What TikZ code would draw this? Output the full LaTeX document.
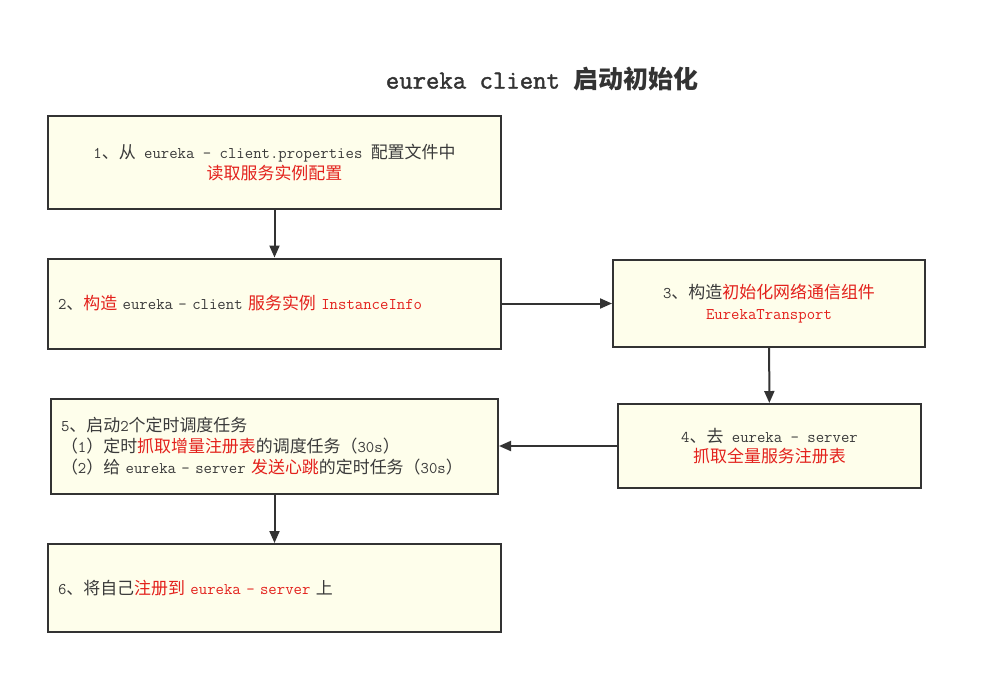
\documentclass[tikz,border=0pt]{standalone}
\usepackage{fontspec}
\newfontfamily\cjk[Scale=1.04]{Noto Sans CJK SC}
\newfontfamily\ttbold[FakeBold=1.6]{Latin Modern Mono}
\usetikzlibrary{arrows.meta}
\definecolor{bd}{HTML}{333333}
\definecolor{txt}{HTML}{3A3A3A}
\definecolor{tred}{HTML}{E3211C}
\definecolor{fillc}{HTML}{FEFEEB}
\newcommand{\cn}[1]{{\cjk #1}}
\newcommand{\rd}[1]{\textcolor{tred}{#1}}
\begin{document}
\begin{tikzpicture}[x=1pt,y=-1pt,
  box/.style={draw=bd, line width=2pt, fill=fillc, text=txt, font=\ttfamily\fontsize{16.3}{20.8}\selectfont},
  cbox/.style={box, align=center, inner sep=0pt},
  lbox/.style={box, align=left, inner xsep=10pt, inner ysep=0pt},
  conn/.style={draw=bd, line width=2pt, -{Triangle[length=12pt,width=10pt]}}]
\useasboundingbox (0,0) rectangle (987,694);
\fill[white] (0,0) rectangle (987,694);
\node[text=bd, font=\ttbold\fontsize{26}{28}\selectfont] (title) at (542,79)
  {eureka client \cn{\bfseries\fontsize{24}{28}\selectfont 启动初始化}};
\node[cbox, minimum width=453pt, minimum height=93pt] (b1) at (274.5,162.5)
  {1\cn{、从} eureka - client.properties \cn{配置文件中}\\ \rd{\cn{读取服务实例配置}}};
\node[lbox, text width=433pt, minimum height=90pt] (b2) at (274.5,303.5)
  {2\cn{、}\rd{\cn{构造}} eureka - client \rd{\cn{服务实例} InstanceInfo}};
\node[cbox, minimum width=312pt, minimum height=87pt] (b3) at (769,303.5)
  {3\cn{、构造}\rd{\cn{初始化网络通信组件}}\\ \rd{EurekaTransport}};
\node[cbox, minimum width=303pt, minimum height=84pt] (b4) at (769.5,446)
  {4\cn{、去} eureka - server\\ \rd{\cn{抓取全量服务注册表}}};
\node[lbox, text width=427pt, minimum height=95pt, inner xsep=10pt] (b5) at (274.5,446)
  {5\cn{、启动}2\cn{个定时调度任务}\\
   \cn{（}1\cn{）定时}\rd{\cn{抓取增量注册表}}\cn{的调度任务（}30s\cn{）}\\
   \cn{（}2\cn{）给} eureka - server \rd{\cn{发送心跳}}\cn{的定时任务（}30s\cn{）}};
\node[lbox, text width=433pt, minimum height=88pt] (b6) at (274.5,588)
  {6\cn{、将自己}\rd{\cn{注册到} eureka - server} \cn{上}};
\draw[conn] (b1) -- (b2);
\draw[conn] (b2) -- (b3);
\draw[conn] (b3) -- (b4);
\draw[conn] (b4) -- (b5);
\draw[conn] (b5) -- (b6);
\end{tikzpicture}
\end{document}
